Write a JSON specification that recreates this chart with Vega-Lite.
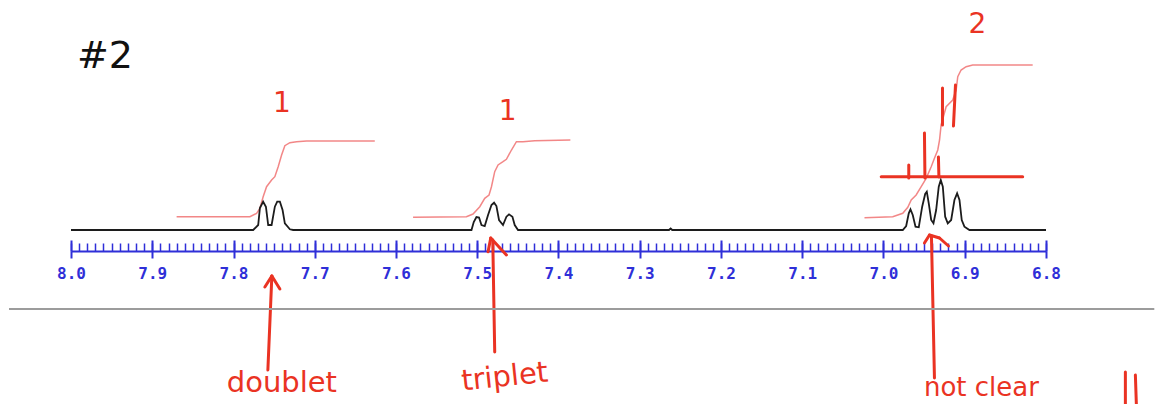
{
  "$schema": "https://vega.github.io/schema/vega-lite/v6.json",
  "width": 975,
  "height": 251,
  "autosize": {"type": "none"},
  "padding": {"left": 71, "top": 0, "right": 117, "bottom": 153},
  "background": "white",
  "config": {"view": {"stroke": null}},
  "datasets": {
    "spectrum": [
      {"ppm": 8.0, "i": 0},
      {"ppm": 7.7758, "i": 0}, {"ppm": 7.7696, "i": 5}, {"ppm": 7.7675, "i": 22}, {"ppm": 7.7635, "i": 28.3},
      {"ppm": 7.7601, "i": 23.3}, {"ppm": 7.7573, "i": 5}, {"ppm": 7.7531, "i": 5}, {"ppm": 7.7491, "i": 23.3},
      {"ppm": 7.7462, "i": 28.3}, {"ppm": 7.7429, "i": 28.3}, {"ppm": 7.7396, "i": 20}, {"ppm": 7.7368, "i": 6.7},
      {"ppm": 7.7306, "i": 0.7}, {"ppm": 7.7266, "i": 0},
      {"ppm": 7.5071, "i": 0}, {"ppm": 7.5043, "i": 8}, {"ppm": 7.501, "i": 13}, {"ppm": 7.4978, "i": 12.5},
      {"ppm": 7.4948, "i": 5}, {"ppm": 7.4908, "i": 4}, {"ppm": 7.4867, "i": 15}, {"ppm": 7.4825, "i": 25},
      {"ppm": 7.4793, "i": 27.3}, {"ppm": 7.4764, "i": 24}, {"ppm": 7.4732, "i": 10}, {"ppm": 7.4683, "i": 5},
      {"ppm": 7.4641, "i": 13.3}, {"ppm": 7.4609, "i": 15.7}, {"ppm": 7.4567, "i": 13.3}, {"ppm": 7.4539, "i": 5},
      {"ppm": 7.4498, "i": 0},
      {"ppm": 7.264, "i": 0}, {"ppm": 7.262, "i": 1.5}, {"ppm": 7.26, "i": 0},
      {"ppm": 6.9763, "i": 0}, {"ppm": 6.9721, "i": 4}, {"ppm": 6.9689, "i": 16.7}, {"ppm": 6.9668, "i": 20.7},
      {"ppm": 6.964, "i": 15}, {"ppm": 6.9606, "i": 3.3}, {"ppm": 6.9566, "i": 2.7}, {"ppm": 6.9524, "i": 23.3},
      {"ppm": 6.9487, "i": 36}, {"ppm": 6.9467, "i": 38.3}, {"ppm": 6.9443, "i": 26.7}, {"ppm": 6.9413, "i": 10},
      {"ppm": 6.9385, "i": 6.7}, {"ppm": 6.9352, "i": 20}, {"ppm": 6.932, "i": 43.3}, {"ppm": 6.9295, "i": 50},
      {"ppm": 6.927, "i": 43.3}, {"ppm": 6.9241, "i": 13.3}, {"ppm": 6.9209, "i": 6.7}, {"ppm": 6.9167, "i": 10},
      {"ppm": 6.9127, "i": 30}, {"ppm": 6.9094, "i": 36.7}, {"ppm": 6.9065, "i": 30}, {"ppm": 6.9037, "i": 10},
      {"ppm": 6.9004, "i": 3.3}, {"ppm": 6.8942, "i": 0},
      {"ppm": 6.8, "i": 0}
    ],
    "integrals": [
      {"band": "7.75", "ppm": 7.87, "i": 13.3}, {"band": "7.75", "ppm": 7.7798, "i": 13.3},
      {"band": "7.75", "ppm": 7.7716, "i": 16.7}, {"band": "7.75", "ppm": 7.7675, "i": 21.7},
      {"band": "7.75", "ppm": 7.7635, "i": 33.3}, {"band": "7.75", "ppm": 7.7593, "i": 43.3},
      {"band": "7.75", "ppm": 7.7531, "i": 50}, {"band": "7.75", "ppm": 7.7491, "i": 53.3},
      {"band": "7.75", "ppm": 7.745, "i": 63.3}, {"band": "7.75", "ppm": 7.7408, "i": 75},
      {"band": "7.75", "ppm": 7.7368, "i": 84.3}, {"band": "7.75", "ppm": 7.7306, "i": 87.3},
      {"band": "7.75", "ppm": 7.7224, "i": 88.3}, {"band": "7.75", "ppm": 7.7101, "i": 89},
      {"band": "7.75", "ppm": 7.6261, "i": 89},
      {"band": "7.48", "ppm": 7.579, "i": 12.7}, {"band": "7.48", "ppm": 7.5133, "i": 13.3},
      {"band": "7.48", "ppm": 7.5052, "i": 16}, {"band": "7.48", "ppm": 7.4969, "i": 23.3},
      {"band": "7.48", "ppm": 7.4908, "i": 31.7}, {"band": "7.48", "ppm": 7.4855, "i": 35},
      {"band": "7.48", "ppm": 7.4825, "i": 43.3}, {"band": "7.48", "ppm": 7.4785, "i": 58.3},
      {"band": "7.48", "ppm": 7.4744, "i": 65}, {"band": "7.48", "ppm": 7.4683, "i": 68.3},
      {"band": "7.48", "ppm": 7.4641, "i": 70.7}, {"band": "7.48", "ppm": 7.4579, "i": 80},
      {"band": "7.48", "ppm": 7.4518, "i": 88.3}, {"band": "7.48", "ppm": 7.4437, "i": 88.3},
      {"band": "7.48", "ppm": 7.4293, "i": 89.3}, {"band": "7.48", "ppm": 7.3854, "i": 90},
      {"band": "6.93", "ppm": 7.0234, "i": 12.3}, {"band": "6.93", "ppm": 6.9886, "i": 13.3},
      {"band": "6.93", "ppm": 6.9763, "i": 16.7}, {"band": "6.93", "ppm": 6.9701, "i": 22.7},
      {"band": "6.93", "ppm": 6.9659, "i": 30}, {"band": "6.93", "ppm": 6.9598, "i": 35},
      {"band": "6.93", "ppm": 6.9536, "i": 43.3}, {"band": "6.93", "ppm": 6.9475, "i": 51.7},
      {"band": "6.93", "ppm": 6.9413, "i": 63.3}, {"band": "6.93", "ppm": 6.9373, "i": 71.7},
      {"band": "6.93", "ppm": 6.9332, "i": 80}, {"band": "6.93", "ppm": 6.931, "i": 90},
      {"band": "6.93", "ppm": 6.9291, "i": 105}, {"band": "6.93", "ppm": 6.9229, "i": 123.3},
      {"band": "6.93", "ppm": 6.9148, "i": 130}, {"band": "6.93", "ppm": 6.9106, "i": 140},
      {"band": "6.93", "ppm": 6.9086, "i": 153.3}, {"band": "6.93", "ppm": 6.9045, "i": 160},
      {"band": "6.93", "ppm": 6.8983, "i": 163.3}, {"band": "6.93", "ppm": 6.8902, "i": 165},
      {"band": "6.93", "ppm": 6.8164, "i": 165}
    ],
    "strokes": [
      {"x1": 6.9274, "y1": 142, "x2": 6.9274, "y2": 105},
      {"x1": 6.9114, "y1": 145, "x2": 6.9139, "y2": 104},
      {"x1": 7.0028, "y1": 53.3, "x2": 6.8287, "y2": 53.3},
      {"x1": 6.9689, "y1": 65, "x2": 6.9689, "y2": 52},
      {"x1": 6.9496, "y1": 97, "x2": 6.949, "y2": 52},
      {"x1": 6.9324, "y1": 73, "x2": 6.9318, "y2": 53},
      {"x1": 7.7528, "y1": -46, "x2": 7.7577, "y2": -140},
      {"x1": 7.7614, "y1": -57, "x2": 7.7528, "y2": -46},
      {"x1": 7.7429, "y1": -59, "x2": 7.7528, "y2": -46},
      {"x1": 7.4809, "y1": -10, "x2": 7.4785, "y2": -122},
      {"x1": 7.4867, "y1": -21.7, "x2": 7.4834, "y2": -8},
      {"x1": 7.4641, "y1": -25, "x2": 7.4834, "y2": -8},
      {"x1": 6.941, "y1": -6, "x2": 6.9373, "y2": -148},
      {"x1": 6.9496, "y1": -13, "x2": 6.9434, "y2": -5},
      {"x1": 6.9434, "y1": -5, "x2": 6.9311, "y2": -8},
      {"x1": 6.9311, "y1": -8, "x2": 6.92, "y2": -16},
      {"x1": 6.7023, "y1": -142, "x2": 6.7023, "y2": -174},
      {"x1": 6.69, "y1": -145, "x2": 6.6888, "y2": -174}
    ],
    "divider": [
      {"x1": 8.0763, "x2": 6.6667, "y": -79}
    ],
    "notes": [
      {"role": "title", "text": "#2", "ppm": 7.9582, "i": 173},
      {"role": "count", "text": "1", "ppm": 7.7405, "i": 126},
      {"role": "count", "text": "1", "ppm": 7.4625, "i": 118},
      {"role": "count", "text": "2", "ppm": 6.8844, "i": 205},
      {"role": "label", "text": "doublet", "ppm": 7.7405, "i": -153},
      {"role": "tilted", "text": "triplet", "ppm": 7.4662, "i": -147},
      {"role": "footer", "text": "not clear", "ppm": 6.8795, "i": -166}
    ]
  },
  "resolve": {"axis": {"x": "independent"}},
  "layer": [
    {
      "data": {"name": "integrals"},
      "mark": {"type": "line", "color": "#f07272", "strokeWidth": 1.5, "opacity": 0.85},
      "encoding": {
        "x": {"field": "ppm", "type": "quantitative",
              "scale": {"domain": [6.8, 8.0], "reverse": true, "nice": false, "zero": false},
              "axis": {"orient": "bottom", "tickCount": 120, "tickSize": -8, "tickWidth": 1.5,
                       "tickColor": "#2f2fd8", "labels": false, "domain": false, "grid": false, "title": null}},
        "y": {"field": "i", "type": "quantitative",
              "scale": {"domain": [-21, 230], "nice": false, "zero": false}, "axis": null},
        "detail": {"field": "band", "type": "nominal"}
      }
    },
    {
      "data": {"name": "spectrum"},
      "mark": {"type": "line", "color": "#1c1c1c", "strokeWidth": 1.8},
      "encoding": {
        "x": {"field": "ppm", "type": "quantitative",
              "scale": {"domain": [6.8, 8.0], "reverse": true, "nice": false, "zero": false},
              "axis": {"orient": "bottom",
                       "values": [8.0, 7.9, 7.8, 7.7, 7.6, 7.5, 7.4, 7.3, 7.2, 7.1, 7.0, 6.9, 6.8],
                       "format": ".1f", "title": null, "grid": false,
                       "domainColor": "#2f2fd8", "domainWidth": 2,
                       "tickColor": "#2f2fd8", "tickWidth": 2, "tickSize": 7,
                       "labelColor": "#2f2fd8", "labelFont": "DejaVu Sans Mono", "labelFontSize": 16,
                       "labelFontWeight": "bold",
                       "labelPadding": 7, "labelFlush": false, "labelOverlap": false}},
        "y": {"field": "i", "type": "quantitative",
              "scale": {"domain": [-21, 230], "nice": false, "zero": false}, "axis": null}
      }
    },
    {
      "data": {"name": "strokes"},
      "mark": {"type": "rule", "color": "#ea3323", "strokeWidth": 3, "strokeCap": "round"},
      "encoding": {
        "x": {"field": "x1", "type": "quantitative",
              "scale": {"domain": [6.8, 8.0], "reverse": true, "nice": false, "zero": false},
              "axis": {"orient": "bottom",
                       "values": [8.0, 7.9, 7.8, 7.7, 7.6, 7.5, 7.4, 7.3, 7.2, 7.1, 7.0, 6.9, 6.8],
                       "tickSize": -11, "tickWidth": 2, "tickColor": "#2f2fd8",
                       "labels": false, "domain": false, "grid": false, "title": null}},
        "x2": {"field": "x2"},
        "y": {"field": "y1", "type": "quantitative",
              "scale": {"domain": [-21, 230], "nice": false, "zero": false}, "axis": null},
        "y2": {"field": "y2"}
      }
    },
    {
      "data": {"name": "divider"},
      "mark": {"type": "rule", "color": "#9c9c9c", "strokeWidth": 2},
      "encoding": {
        "x": {"field": "x1", "type": "quantitative", "axis": null},
        "x2": {"field": "x2"},
        "y": {"field": "y", "type": "quantitative", "axis": null}
      }
    },
    {
      "data": {"name": "notes"},
      "transform": [{"filter": "datum.role === 'title'"}],
      "mark": {"type": "text", "color": "#111111", "fontSize": 38, "font": "DejaVu Sans", "align": "center", "baseline": "middle"},
      "encoding": {
        "x": {"field": "ppm", "type": "quantitative", "axis": null},
        "y": {"field": "i", "type": "quantitative", "axis": null},
        "text": {"field": "text"}
      }
    },
    {
      "data": {"name": "notes"},
      "transform": [{"filter": "datum.role === 'count'"}],
      "mark": {"type": "text", "color": "#ea3323", "fontSize": 28, "font": "DejaVu Sans", "align": "center", "baseline": "middle"},
      "encoding": {
        "x": {"field": "ppm", "type": "quantitative", "axis": null},
        "y": {"field": "i", "type": "quantitative", "axis": null},
        "text": {"field": "text"}
      }
    },
    {
      "data": {"name": "notes"},
      "transform": [{"filter": "datum.role === 'label'"}],
      "mark": {"type": "text", "color": "#ea3323", "fontSize": 29, "font": "DejaVu Sans", "align": "center", "baseline": "middle"},
      "encoding": {
        "x": {"field": "ppm", "type": "quantitative", "axis": null},
        "y": {"field": "i", "type": "quantitative", "axis": null},
        "text": {"field": "text"}
      }
    },
    {
      "data": {"name": "notes"},
      "transform": [{"filter": "datum.role === 'footer'"}],
      "mark": {"type": "text", "color": "#ea3323", "fontSize": 26, "font": "DejaVu Sans", "align": "center", "baseline": "alphabetic"},
      "encoding": {
        "x": {"field": "ppm", "type": "quantitative", "axis": null},
        "y": {"field": "i", "type": "quantitative", "axis": null},
        "text": {"field": "text"}
      }
    },
    {
      "data": {"name": "notes"},
      "transform": [{"filter": "datum.role === 'tilted'"}],
      "mark": {"type": "text", "color": "#ea3323", "fontSize": 29, "font": "DejaVu Sans", "align": "center", "baseline": "middle", "angle": 354},
      "encoding": {
        "x": {"field": "ppm", "type": "quantitative", "axis": null},
        "y": {"field": "i", "type": "quantitative", "axis": null},
        "text": {"field": "text"}
      }
    }
  ]
}
